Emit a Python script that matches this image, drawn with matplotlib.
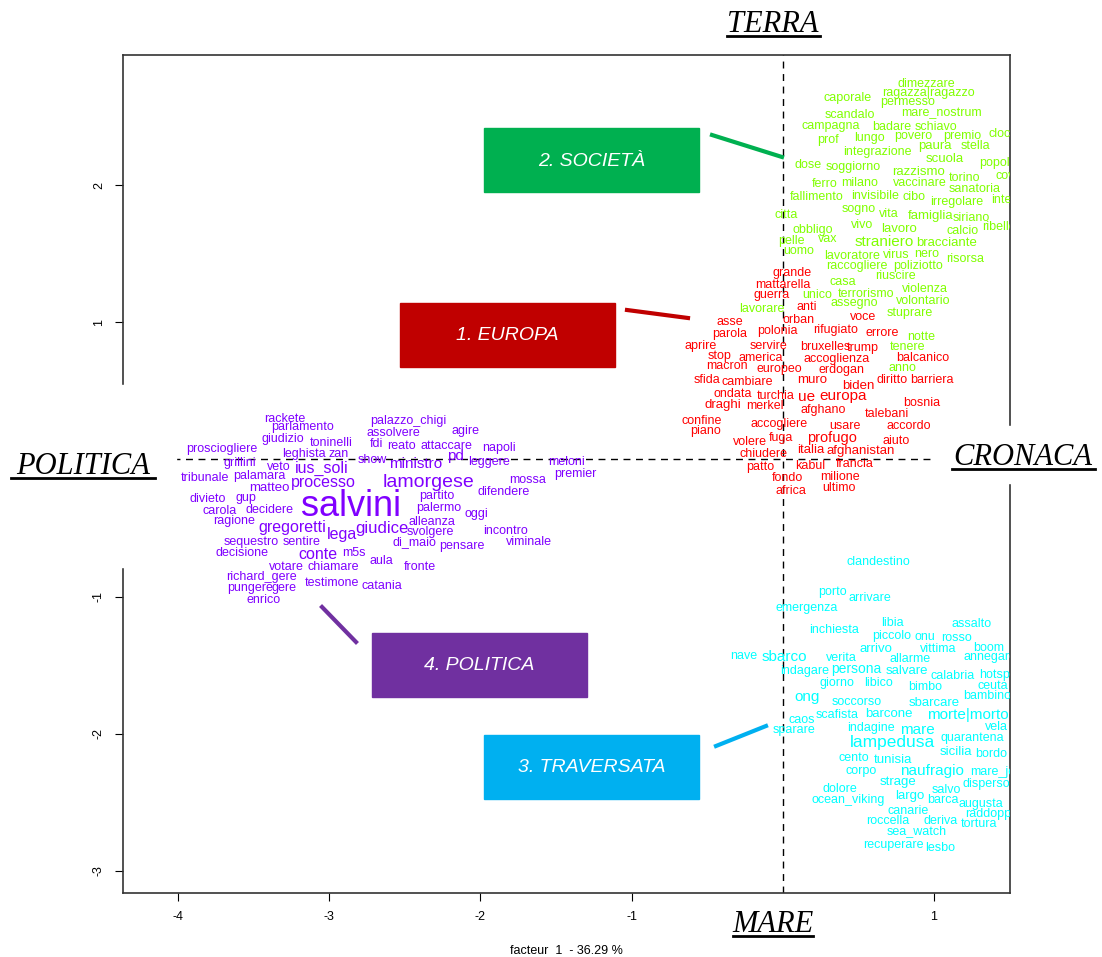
import matplotlib.pyplot as plt
from matplotlib.patches import Rectangle

plt.rcParams['font.family'] = ['Liberation Sans', 'DejaVu Sans']
plt.rcParams['axes.unicode_minus'] = False

# cluster 2 - societa (green)
soc_words = ['dimezzare', 'caporale', 'ragazza|ragazzo', 'permesso', 'scandalo', 'mare_nostrum',
             'campagna', 'badare', 'schiavo', 'prof', 'lungo', 'povero', 'premio', 'clochard',
             'paura', 'stella', 'integrazione', 'scuola', 'popolo', 'dose', 'soggiorno', 'razzismo',
             'torino', 'covid', 'ferro', 'milano', 'vaccinare', 'sanatoria', 'fallimento',
             'invisibile', 'cibo', 'irregolare', 'interno', 'sogno', 'vita', 'famiglia', 'siriano',
             'citta', 'ribelle', 'obbligo', 'vivo', 'lavoro', 'calcio', 'pelle', 'vax', 'straniero',
             'bracciante', 'uomo', 'lavoratore', 'virus', 'nero', 'risorsa', 'raccogliere',
             'poliziotto', 'riuscire', 'casa', 'violenza', 'unico', 'terrorismo', 'assegno',
             'volontario', 'lavorare', 'stuprare', 'notte', 'tenere', 'anno']
soc_x = [0.952, 0.430, 0.966, 0.827, 0.443, 1.052, 0.317, 0.721, 1.012, 0.298, 0.575, 0.860,
         1.184, 1.515, 1.005, 1.276, 0.628, 1.071, 1.422, 0.165, 0.463, 0.899, 1.204, 1.501,
         0.278, 0.509, 0.906, 1.270, 0.225, 0.608, 0.866, 1.151, 1.508, 0.503, 0.701, 0.979,
         1.250, 0.026, 1.429, 0.198, 0.522, 0.767, 1.190, 0.060, 0.298, 0.668, 1.085, 0.106,
         0.456, 0.754, 0.952, 1.204, 0.489, 0.893, 0.747, 0.397, 0.939, 0.231, 0.549, 0.470,
         0.926, -0.139, 0.840, 0.913, 0.827, 0.794]
soc_y = [2.736, 2.634, 2.671, 2.605, 2.510, 2.525, 2.430, 2.423, 2.423, 2.328, 2.343, 2.357,
         2.357, 2.372, 2.284, 2.284, 2.241, 2.190, 2.160, 2.146, 2.131, 2.095, 2.051, 2.066,
         2.007, 2.015, 2.015, 1.971, 1.913, 1.920, 1.913, 1.876, 1.891, 1.825, 1.789, 1.774,
         1.759, 1.781, 1.694, 1.672, 1.708, 1.679, 1.665, 1.592, 1.606, 1.585, 1.577, 1.519,
         1.483, 1.490, 1.497, 1.461, 1.410, 1.410, 1.337, 1.293, 1.242, 1.198, 1.206, 1.140,
         1.155, 1.096, 1.067, 0.892, 0.819, 0.666]

# cluster 1 - europa (red)
eur_words = ['grande', 'mattarella', 'guerra', 'anti', 'orban', 'voce', 'asse', 'parola', 'polonia',
             'rifugiato', 'errore', 'aprire', 'servire', 'bruxelles', 'trump', 'balcanico', 'stop',
             'america', 'accoglienza', 'macron', 'europeo', 'erdogan', 'sfida', 'cambiare', 'muro',
             'biden', 'diritto', 'barriera', 'ondata', 'turchia', 'ue', 'europa', 'bosnia', 'draghi',
             'merkel', 'afghano', 'talebani', 'confine', 'piano', 'accogliere', 'usare', 'accordo',
             'fuga', 'profugo', 'volere', 'aiuto', 'chiudere', 'italia', 'afghanistan', 'patto',
             'kabul', 'francia', 'fondo', 'milione', 'africa', 'ultimo']
eur_x = [0.060, 0.000, -0.073, 0.159, 0.106, 0.529, -0.351, -0.351, -0.033, 0.351, 0.655, -0.542,
         -0.093, 0.278, 0.529, 0.926, -0.417, -0.146, 0.357, -0.370, -0.026, 0.390, -0.503,
         -0.238, 0.192, 0.503, 0.721, 0.985, -0.331, -0.046, 0.159, 0.397, 0.919, -0.397,
         -0.119, 0.265, 0.688, -0.536, -0.509, -0.026, 0.410, 0.833, -0.013, 0.324, -0.218,
         0.747, -0.126, 0.185, 0.516, -0.152, 0.179, 0.476, 0.033, 0.377, 0.053, 0.370]
eur_y = [1.359, 1.271, 1.198, 1.111, 1.016, 1.038, 1.001, 0.914, 0.936, 0.943, 0.921, 0.827,
         0.827, 0.819, 0.812, 0.739, 0.754, 0.739, 0.732, 0.681, 0.659, 0.652, 0.579, 0.564,
         0.579, 0.535, 0.579, 0.579, 0.477, 0.462, 0.455, 0.462, 0.411, 0.397, 0.389, 0.360,
         0.331, 0.280, 0.207, 0.258, 0.243, 0.243, 0.156, 0.156, 0.127, 0.134, 0.039, 0.069,
         0.061, -0.055, -0.048, -0.034, -0.136, -0.128, -0.230, -0.208]

# cluster 3 - traversata (cyan)
tra_words = ['clandestino', 'porto', 'arrivare', 'emergenza', 'libia', 'assalto', 'inchiesta',
             'piccolo', 'onu', 'rosso', 'arrivo', 'vittima', 'boom', 'nave', 'sbarco', 'verita',
             'allarme', 'annegare', 'indagare', 'persona', 'salvare', 'calabria', 'hotspot',
             'giorno', 'libico', 'bimbo', 'ceuta', 'bambino', 'ong', 'soccorso', 'sbarcare', 'caos',
             'scafista', 'barcone', 'morte|morto', 'sparare', 'indagine', 'mare', 'vela',
             'lampedusa', 'quarantena', 'sicilia', 'bordo', 'cento', 'tunisia', 'corpo',
             'naufragio', 'mare_jonio', 'strage', 'disperso', 'dolore', 'salvo', 'largo',
             'ocean_viking', 'barca', 'augusta', 'canarie', 'raddoppiare', 'roccella', 'deriva',
             'tortura', 'sea_watch', 'recuperare', 'lesbo']
tra_x = [0.635, 0.331, 0.575, 0.159, 0.728, 1.250, 0.337, 0.721, 0.939, 1.151, 0.615, 1.025,
         1.362, -0.258, 0.013, 0.390, 0.840, 1.369, 0.146, 0.489, 0.820, 1.124, 1.435, 0.357,
         0.635, 0.939, 1.389, 1.349, 0.159, 0.489, 1.005, 0.126, 0.357, 0.701, 1.224, 0.073,
         0.582, 0.893, 1.415, 0.728, 1.257, 1.144, 1.376, 0.470, 0.728, 0.516, 0.985, 1.442,
         0.761, 1.349, 0.377, 1.085, 0.840, 0.430, 1.058, 1.310, 0.827, 1.429, 0.694, 1.045,
         1.296, 0.886, 0.734, 1.038]
tra_y = [-0.748, -0.966, -1.010, -1.083, -1.192, -1.200, -1.243, -1.287, -1.294, -1.302, -1.382,
         -1.382, -1.375, -1.433, -1.440, -1.448, -1.455, -1.440, -1.542, -1.528, -1.542, -1.579,
         -1.571, -1.630, -1.630, -1.659, -1.652, -1.724, -1.732, -1.768, -1.776, -1.899, -1.863,
         -1.856, -1.863, -1.972, -1.958, -1.972, -1.950, -2.060, -2.031, -2.133, -2.147, -2.176,
         -2.191, -2.271, -2.271, -2.278, -2.351, -2.366, -2.402, -2.410, -2.453, -2.483, -2.483,
         -2.512, -2.563, -2.585, -2.636, -2.636, -2.657, -2.708, -2.810, -2.832]

# cluster 4 - politica (purple)
pol_words = ['rackete', 'parlamento', 'giudizio', 'toninelli', 'prosciogliere', 'leghista', 'zan',
             'grillini', 'veto', 'ius_soli', 'tribunale', 'palamara', 'processo', 'matteo',
             'divieto', 'gup', 'carola', 'decidere', 'ragione', 'gregoretti', 'sequestro', 'sentire',
             'decisione', 'conte', 'lega', 'giudice', 'm5s', 'votare', 'chiamare', 'richard_gere',
             'testimone', 'pungere', 'gere', 'enrico', 'salvini', 'palazzo_chigi', 'assolvere',
             'agire', 'fdi', 'reato', 'attaccare', 'napoli', 'show', 'pd', 'ministro', 'leggere',
             'meloni', 'premier', 'lamorgese', 'mossa', 'partito', 'difendere', 'palermo', 'oggi',
             'alleanza', 'svolgere', 'incontro', 'di_maio', 'pensare', 'viminale', 'aula', 'fronte',
             'catania']
pol_x = [-3.294, -3.175, -3.307, -2.989, -3.710, -3.168, -2.937, -3.591, -3.333, -3.049, -3.823,
         -3.459, -3.036, -3.399, -3.803, -3.552, -3.724, -3.393, -3.631, -3.247, -3.519, -3.181,
         -3.578, -3.075, -2.917, -2.652, -2.837, -3.280, -2.970, -3.446, -2.983, -3.525, -3.300,
         -3.433, -2.857, -2.474, -2.573, -2.097, -2.685, -2.520, -2.222, -1.878, -2.718, -2.163,
         -2.427, -1.944, -1.429, -1.369, -2.341, -1.687, -2.288, -1.845, -2.275, -2.024, -2.321,
         -2.328, -1.832, -2.434, -2.123, -1.680, -2.652, -2.401, -2.652]
pol_y = [0.294, 0.236, 0.149, 0.120, 0.076, 0.039, 0.039, -0.026, -0.055, -0.063, -0.136, -0.121,
         -0.165, -0.208, -0.289, -0.281, -0.376, -0.369, -0.449, -0.493, -0.602, -0.602, -0.682,
         -0.690, -0.544, -0.500, -0.682, -0.784, -0.784, -0.857, -0.901, -0.937, -0.937, -1.025,
         -0.340, 0.280, 0.192, 0.207, 0.112, 0.098, 0.098, 0.083, -0.004, 0.025, -0.034, -0.019,
         -0.019, -0.106, -0.165, -0.150, -0.267, -0.238, -0.354, -0.398, -0.456, -0.529, -0.522,
         -0.602, -0.631, -0.602, -0.741, -0.784, -0.923]

# text size of the most frequent words
big = {'salvini': 26, 'lamorgese': 14, 'giudice': 12, 'processo': 11.5, 'ius_soli': 11.5,
       'gregoretti': 11.5, 'conte': 11.5, 'lega': 11.5, 'ministro': 11, 'pd': 11,
       'lampedusa': 12.5, 'naufragio': 11, 'mare': 11, 'morte|morto': 11, 'sbarco': 11,
       'ong': 11, 'persona': 10, 'profugo': 10.5, 'ue': 11, 'europa': 11, 'straniero': 11,
       'bracciante': 9.5, 'scuola': 9.5, 'razzismo': 9.5, 'paura': 9.5, 'strage': 9.5,
       'sicilia': 9.5, 'muro': 9.5, 'biden': 9.5, 'draghi': 9.5, 'italia': 9.5,
       'afghanistan': 9.5, 'tunisia': 9.5, 'sbarcare': 9.5, 'arrivo': 9.5, 'salvare': 9.5,
       'matteo': 9.5, 'lavoro': 9.5, 'famiglia': 9.5, 'largo': 9.5, 'barcone': 9.5}

clusters = [(soc_words, soc_x, soc_y, '#80FF00'),
            (eur_words, eur_x, eur_y, '#FF0000'),
            (tra_words, tra_x, tra_y, '#00FFFF'),
            (pol_words, pol_x, pol_y, '#8000FF')]

fig = plt.figure(figsize=(11.02, 9.57), dpi=100)
ax = fig.add_axes([0.1116, 0.0669, 0.8049, 0.8756])
ax.set_xlim(-4.364, 1.503)
ax.set_ylim(-3.160, 2.948)

for words, xs, ys, col in clusters:
    for w, x, y in zip(words, xs, ys):
        ax.text(x, y, w, color=col, fontsize=big.get(w, 9), ha='center', va='center', clip_on=True)

ax.axhline(0, color='black', lw=1, ls=(0, (5, 4)))
ax.axvline(0, color='black', lw=1, ls=(0, (5, 4)))

ax.set_xticks([-4, -3, -2, -1, 1])
ax.set_yticks([-3, -2, -1, 1, 2])
ax.set_yticklabels(['-3', '-2', '-1', '1', '2'], rotation=90, va='center')
ax.tick_params(labelsize=9, length=6, pad=7)
ax.set_xlabel('facteur  1  - 36.29 %', fontsize=9, labelpad=16)
for s in ax.spines.values():
    s.set_color('#333333')
    s.set_linewidth(1.2)

# overlay in pixel coordinates for the pasted labels
ov = fig.add_axes([0, 0, 1, 1], zorder=5)
ov.set_xlim(0, 1102)
ov.set_ylim(957, 0)
ov.axis('off')
ov.patch.set_alpha(0)

ov.add_patch(Rectangle((0, 385), 176, 182, color='white'))
ov.add_patch(Rectangle((935, 426), 167, 57, color='white'))

for txt, xc, yb, x0, x1 in [('TERRA', 773, 32, 727, 820), ('POLITICA', 83, 474, 11, 155),
                           ('CRONACA', 1023, 465, 952, 1095), ('MARE', 773, 932, 733, 813)]:
    ov.text(xc, yb, txt, fontsize=22, style='italic', family=['Liberation Serif', 'DejaVu Serif'],
            ha='center', va='baseline', color='black')
    ov.plot([x0, x1], [yb + 4, yb + 4], color='black', lw=2)

boxes = [('2. SOCIETÀ', 484, 128, '#00B050', (712, 135), (782, 157)),
         ('1. EUROPA', 400, 303, '#C00000', (627, 310), (688, 318)),
         ('4. POLITICA', 372, 633, '#7030A0', (322, 607), (356, 642)),
         ('3. TRAVERSATA', 484, 735, '#00B0F0', (716, 746), (766, 726))]
for txt, bx, by, col, p0, p1 in boxes:
    ov.add_patch(Rectangle((bx, by), 215, 64, color=col))
    ov.text(bx + 107.5, by + 33, txt, color='white', fontsize=14, style='italic',
            ha='center', va='center')
    ov.plot([p0[0], p1[0]], [p0[1], p1[1]], color=col, lw=3)

plt.savefig('out.png', dpi=100)
